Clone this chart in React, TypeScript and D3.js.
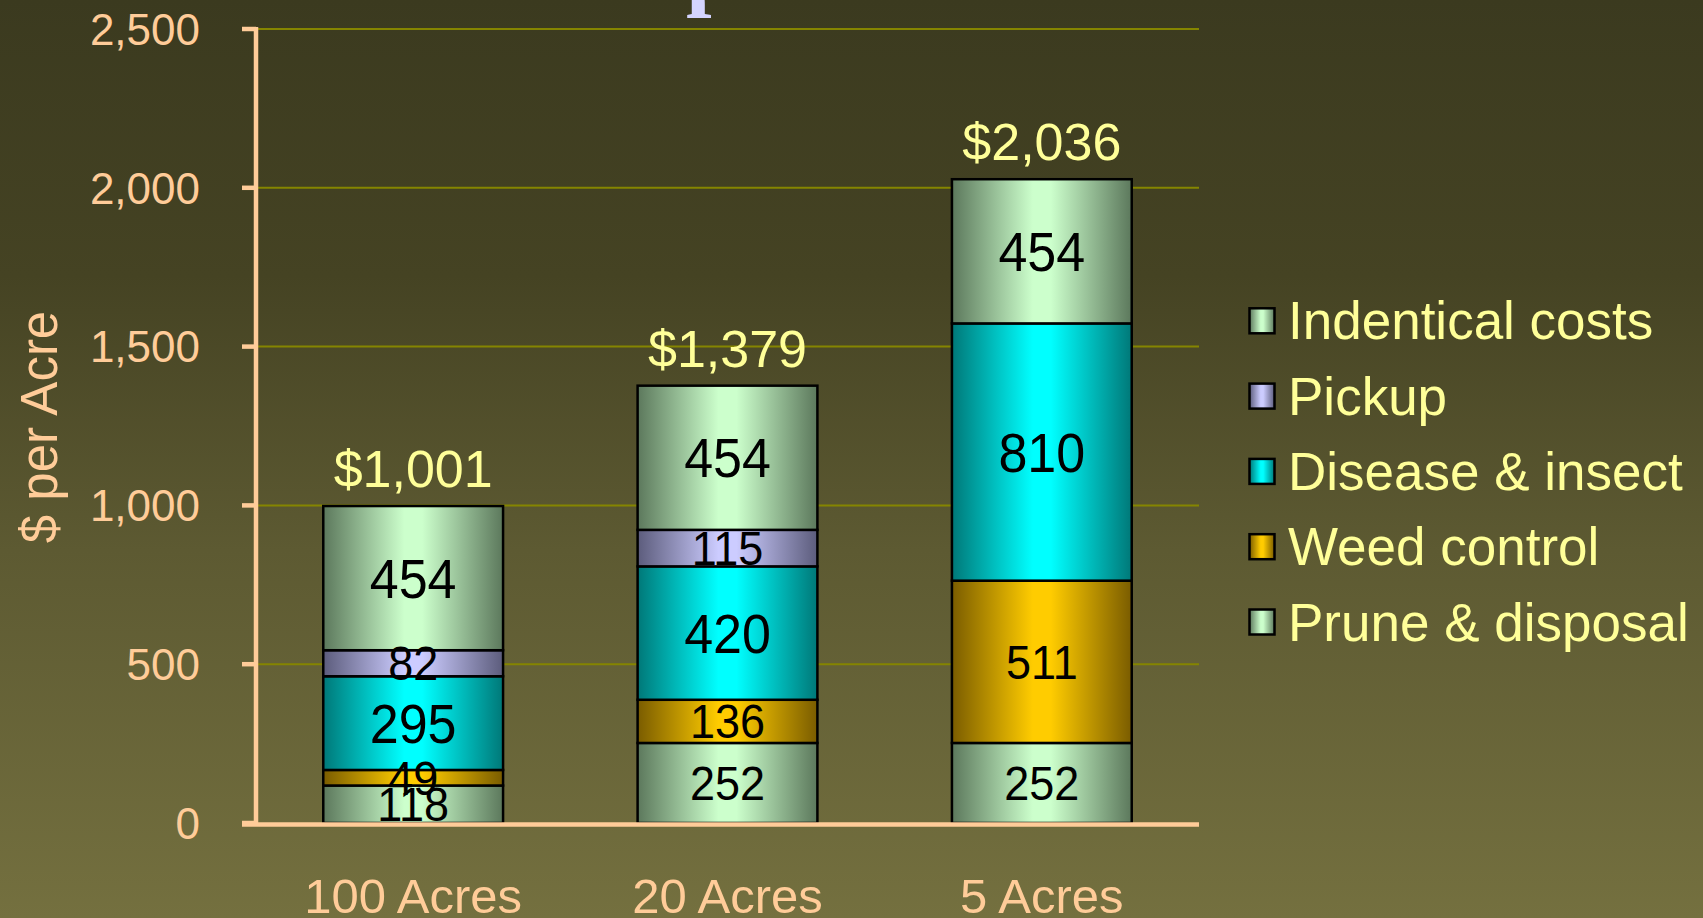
import React from "react";
import * as d3 from "d3";

const categories = ["100 Acres", "20 Acres", "5 Acres"];
const seriesNames = ["Prune & disposal", "Weed control", "Disease & insect", "Pickup", "Indentical costs"];
const prune = [118, 252, 252];
const weed = [49, 136, 511];
const disease = [295, 420, 810];
const pickup = [82, 115, 0];
const identical = [454, 454, 454];
const totals = ["$1,001", "$1,379", "$2,036"];
const yTicks = [0, 500, 1000, 1500, 2000, 2500];

const W = 1703;
const H = 918;
const FONT = "'Liberation Sans', Arial, sans-serif";

const seriesColors: Record<string, [string, string]> = {
  "Prune & disposal": ["#5c785c", "#ccffcc"],
  "Weed control": ["#7a5c00", "#ffcc00"],
  "Disease & insect": ["#007878", "#00ffff"],
  "Pickup": ["#5c5c7c", "#ccccff"],
  "Indentical costs": ["#5c785c", "#ccffcc"],
};
const bigLabel: Record<string, boolean> = {
  "Indentical costs": true,
  "Disease & insect": true,
};

export default function App() {
  const valuesBySeries: Record<string, number[]> = {
    "Prune & disposal": prune,
    "Weed control": weed,
    "Disease & insect": disease,
    "Pickup": pickup,
    "Indentical costs": identical,
  };
  const table = categories.map((c, i) => {
    const row: any = { category: c };
    seriesNames.forEach((s) => (row[s] = valuesBySeries[s][i]));
    return row;
  });
  const stacked = d3.stack<any>().keys(seriesNames)(table);

  const x = d3
    .scaleBand<string>()
    .domain(categories)
    .range([256, 1199])
    .paddingInner(0.428)
    .paddingOuter(0.214);
  const y = d3.scaleLinear().domain([0, 2500]).range([823, 29]);

  const gid = (s: string) => "g" + seriesNames.indexOf(s);

  return (
    <svg
      width={W}
      height={H}
      style={{ position: "absolute", left: 0, top: 0 }}
      xmlns="http://www.w3.org/2000/svg"
    >
      <defs>
        <linearGradient id="bg" x1="0" y1="0" x2="0" y2="1">
          <stop offset="0" stopColor="#3b3a1f" />
          <stop offset="0.3" stopColor="#454323" />
          <stop offset="0.6" stopColor="#5d5a32" />
          <stop offset="1" stopColor="#74703f" />
        </linearGradient>
        {seriesNames.map((s) => (
          <linearGradient key={s} id={gid(s)} x1="0" y1="0" x2="1" y2="0">
            <stop offset="0" stopColor={seriesColors[s][0]} />
            <stop offset="0.45" stopColor={seriesColors[s][1]} />
            <stop offset="0.55" stopColor={seriesColors[s][1]} />
            <stop offset="1" stopColor={seriesColors[s][0]} />
          </linearGradient>
        ))}
      </defs>
      <rect x={0} y={0} width={W} height={H} fill="url(#bg)" />

      {/* title fragment */}
      <text
        x={686}
        y={-1}
        fontFamily="'Liberation Serif', 'Times New Roman', serif"
        fontWeight="bold"
        fontSize={92}
        fill="#d4d4ff"
      >
        p
      </text>

      {/* gridlines */}
      {yTicks.slice(1).map((t) => (
        <line key={t} x1={256} x2={1199} y1={y(t)} y2={y(t)} stroke="#858500" strokeWidth={2} />
      ))}

      {/* bars */}
      {stacked.map((layer) =>
        layer.map((d, i) => {
          const v = d[1] - d[0];
          if (v <= 0) return null;
          const x0 = x(categories[i])!;
          const y0 = y(d[1]);
          const h = y(d[0]) - y(d[1]);
          return (
            <rect
              key={layer.key + i}
              x={x0}
              y={y0}
              width={x.bandwidth()}
              height={h}
              fill={`url(#${gid(layer.key)})`}
              stroke="#000"
              strokeWidth={2.5}
            />
          );
        })
      )}
      {stacked.map((layer) =>
        layer.map((d, i) => {
          const v = d[1] - d[0];
          if (v <= 0) return null;
          const cx = x(categories[i])! + x.bandwidth() / 2;
          const cy = (y(d[0]) + y(d[1])) / 2;
          const fs = bigLabel[layer.key] ? 52 : 45;
          return (
            <text
              key={"l" + layer.key + i}
              transform={`translate(${cx},${cy}) scale(1,1.05)`}
              y={fs * 0.358}
              textAnchor="middle"
              fontFamily={FONT}
              fontSize={fs}
              fill="#000"
            >
              {v}
            </text>
          );
        })
      )}

      {/* totals */}
      {categories.map((c, i) => {
        const top = stacked[stacked.length - 1][i][1];
        return (
          <text
            key={"t" + c}
            x={x(c)! + x.bandwidth() / 2}
            y={y(top) - 19}
            textAnchor="middle"
            fontFamily={FONT}
            fontSize={52}
            fill="#ffff99"
          >
            {totals[i]}
          </text>
        );
      })}

      {/* axes */}
      <line x1={256} x2={256} y1={27} y2={826} stroke="#ffcc99" strokeWidth={4.5} />
      <line x1={242} x2={1199} y1={824.5} y2={824.5} stroke="#ffcc99" strokeWidth={4.5} />
      {yTicks.map((t) => (
        <g key={"yt" + t}>
          <line x1={242} x2={256} y1={y(t)} y2={y(t)} stroke="#ffcc99" strokeWidth={4.5} />
          <text
            x={200}
            y={y(t) + 44 * 0.358}
            textAnchor="end"
            fontFamily={FONT}
            fontSize={44}
            fill="#ffcc99"
          >
            {d3.format(",")(t)}
          </text>
        </g>
      ))}
      {categories.map((c) => (
        <text
          key={"c" + c}
          x={x(c)! + x.bandwidth() / 2}
          y={913}
          textAnchor="middle"
          fontFamily={FONT}
          fontSize={49}
          fill="#ffcc99"
        >
          {c}
        </text>
      ))}
      <text
        transform="translate(57,427) rotate(-90)"
        textAnchor="middle"
        fontFamily={FONT}
        fontSize={51}
        fill="#ffcc99"
      >
        $ per Acre
      </text>

      {/* legend */}
      {seriesNames
        .slice()
        .reverse()
        .map((s, i) => {
          const base = 339.3 + i * 75.3;
          return (
            <g key={"lg" + s}>
              <rect
                x={1249.5}
                y={base - 31}
                width={25}
                height={25}
                fill={`url(#${gid(s)})`}
                stroke="#000"
                strokeWidth={2.5}
              />
              <text x={1288} y={base} fontFamily={FONT} fontSize={53} fill="#ffff99">
                {s}
              </text>
            </g>
          );
        })}
    </svg>
  );
}
